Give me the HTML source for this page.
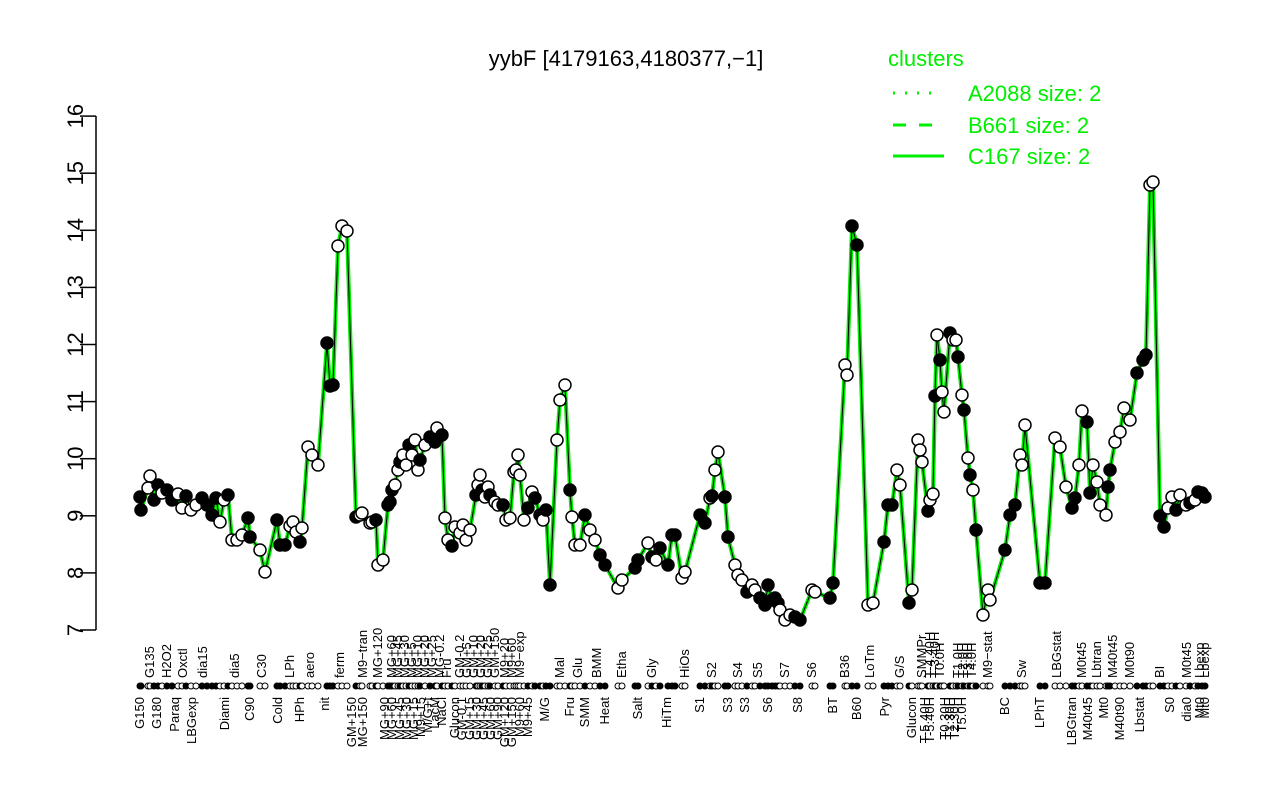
<!DOCTYPE html>
<html><head><meta charset="utf-8"><style>
html,body{margin:0;padding:0;background:#fff}
svg{display:block;font-family:"Liberation Sans",sans-serif}
</style></head><body>
<svg id="s" width="1280" height="800" xmlns="http://www.w3.org/2000/svg">
<rect width="1280" height="800" fill="#fff"/>
<text x="626" y="66" font-size="22" text-anchor="middle">yybF [4179163,4180377,−1]</text>
<g stroke="#000" stroke-width="1.5">
<line x1="96" y1="116" x2="96" y2="630"/>
</g>
<g id="yt"></g>
<g font-size="22" fill="#00ee00">
<text x="888" y="66">clusters</text>
<text x="968" y="101">A2088 size: 2</text>
<text x="968" y="133">B661 size: 2</text>
<text x="968" y="164">C167 size: 2</text>
</g>
<line x1="893" y1="93" x2="940" y2="93" stroke="#00ee00" stroke-width="3" stroke-dasharray="2,10"/>
<line x1="893" y1="125" x2="940" y2="125" stroke="#00ee00" stroke-width="3" stroke-dasharray="13,13"/>
<line x1="893" y1="156" x2="944" y2="156" stroke="#00ee00" stroke-width="3"/>
<g id="plot"></g>
<g id="lab" font-size="13"></g>
</svg>
<script>
var ns="http://www.w3.org/2000/svg";
function el(t,a,p,txt){var e=document.createElementNS(ns,t);for(var k in a)e.setAttribute(k,a[k]);if(txt)e.textContent=txt;p.appendChild(e);return e;}
var yt=document.getElementById('yt');
for(var v=7;v<=16;v++){var y=630-(v-7)*57.1;el('line',{x1:80,y1:y,x2:96,y2:y,stroke:'#000','stroke-width':1.5},yt);
el('text',{x:0,y:0,'font-size':22,'text-anchor':'middle',transform:'translate(83,'+y+') rotate(-90)'},yt,String(v));}
var P="140 497 f,141 510 f,148 488 o,150 476 o,154 500 f,158 485 f,162 493 o,167 490 f,172 500 f,178 494 o,182 508 o,186 496 f,191 510 o,196 505 o,202 498 f,207 505 f,212 515 f,216 498 f,220 522 o,224 500 o,228 495 f,232 540 o,237 540 o,242 535 o,248 518 f,250 537 f,260 550 o,265 572 o,277 520 f,280 545 f,285 545 f,290 526 o,293 522 o,296 532 o,300 542 f,302 528 o,308 447 o,312 455 o,318 465 o,327 343 f,330 386 f,333 385 f,338 246 o,342 226 o,347 231 o,356 517 f,360 515 o,362 513 o,370 523 o,372 522 o,376 520 f,378 565 o,383 560 o,388 505 f,390 502 f,392 490 f,395 485 o,398 470 o,400 462 f,403 455 o,406 465 o,409 445 f,412 455 o,415 440 o,418 470 o,420 460 f,425 445 o,430 437 f,435 442 f,437 428 o,442 435 f,445 518 o,448 540 o,452 546 f,455 527 o,460 533 o,463 525 o,466 540 o,470 530 o,476 495 f,478 485 o,480 475 o,482 490 f,485 497 o,488 487 o,490 495 f,495 502 o,498 505 o,503 505 f,506 520 o,510 518 o,514 472 o,516 470 o,518 455 o,520 475 o,524 520 o,528 508 f,532 492 o,535 498 f,540 515 f,543 520 o,546 510 f,550 585 f,557 440 o,560 400 o,565 385 o,570 490 f,572 517 o,575 545 o,580 545 o,585 515 f,590 530 o,595 540 o,600 555 f,605 565 f,618 588 o,622 580 o,635 568 f,638 560 f,648 543 o,652 557 f,656 560 o,660 548 f,668 565 f,672 535 f,675 535 f,682 578 o,685 572 o,700 515 f,705 523 f,710 498 o,712 496 f,715 470 o,718 452 o,725 497 f,728 537 f,735 565 o,738 575 o,742 580 o,747 592 f,752 585 o,755 590 o,760 598 f,765 605 f,768 585 f,772 600 f,775 598 f,778 603 f,780 610 o,785 620 o,790 615 o,795 617 f,800 620 f,812 590 o,815 592 o,830 598 f,833 583 f,845 365 o,847 375 o,852 226 f,857 245 f,868 605 o,873 603 o,884 542 f,888 505 f,892 505 f,897 470 o,900 485 o,909 603 f,912 590 o,918 440 o,920 450 o,922 462 o,928 511 f,930 500 o,933 494 o,935 396 f,937 335 o,940 360 f,942 392 o,944 412 o,950 333 f,953 340 o,956 340 o,958 357 f,962 395 o,964 410 f,968 458 o,970 475 f,973 490 o,976 530 f,983 615 o,988 590 o,990 600 o,1005 550 f,1010 515 f,1015 505 f,1020 455 o,1022 465 o,1025 425 o,1040 583 f,1045 583 f,1055 438 o,1060 447 o,1066 487 o,1072 508 f,1075 498 f,1079 465 o,1082 411 o,1087 422 f,1090 493 f,1093 465 o,1097 482 o,1100 505 o,1106 515 o,1108 487 f,1110 470 f,1115 442 o,1120 432 o,1124 408 o,1130 420 o,1137 373 f,1143 360 f,1146 355 f,1150 185 o,1153 182 o,1160 516 f,1164 527 f,1168 508 o,1172 497 o,1176 510 f,1180 495 o,1186 505 o,1190 503 f,1195 500 o,1198 492 f,1202 493 f,1205 497 f";
var pts=P.split(',').map(function(s){var a=s.split(' ');return [+a[0],+a[1],a[2]];});
var pl=document.getElementById('plot');
var d=pts.map(function(p){return p[0]+','+p[1]}).join(' ');
el('polyline',{points:d,fill:'none',stroke:'#00ee00','stroke-width':4,'stroke-linejoin':'round'},pl);
el('polyline',{points:d,fill:'none',stroke:'#000','stroke-width':1},pl);
pts.forEach(function(p){el('circle',{cx:p[0],cy:p[1],r:6,fill:p[2]=='f'?'#000':'#fff',stroke:'#000','stroke-width':1.5},pl);
el('circle',{cx:p[0],cy:686,r:3,fill:p[2]=='f'?'#000':'#fff',stroke:'#000','stroke-width':1},pl);});
var lab=document.getElementById('lab');
var lower="G150 140,G180 157,Paraq 175,LBGexp 192,Diami 225,C90 250,Cold 278,HPh 300,nit 325,GM+150 352,MG+150 363,MG+90 385,MG+60 392,MG+45 400,MG+30 407,MG+15 414,M9+15 421,M/G+t 428,LacM 435,NaCl 442,Glucon 455,GM-0.1 462,GM+15 470,GM+30 477,GM+45 484,GM+60 491,GM+90 498,GM+120 505,GM+150 512,M9+60 520,M9+45 528,M/G 545,Fru 570,SMM 585,Heat 605,Salt 638,HiTm 667,S1 700,S3 728,S3 745,S6 768,S8 798,BT 833,B60 857,Pyr 885,Glucon 912,T-5.40H 925,T-5.40H 930,T0.30H 945,T1.30H 950,T2.30H 955,T5.0H 962,BC 1005,LPhT 1040,LBGtran 1072,M40t45 1088,Mt0 1104,M40t90 1120,Lbstat 1140,S0 1170,dia0 1187,Mt0 1200,Mt0 1205";
var upper="G135 150,H2O2 167,Oxctl 183,dia15 203,dia5 235,C30 262,LPh 290,aero 310,ferm 340,M9−tran 363,MG+120 378,MG+60 392,MG+45 398,MG+30 405,MG+5 412,MG+10 418,MG+20 425,MG+25 432,MG-0.2 440,Fru 447,GM-0.2 460,GM+5 467,GM+10 474,GM+20 481,GM+25 488,GM+150 495,M9+20 505,M9+60 512,M9−exp 520,Mal 560,Glu 578,BMM 597,Etha 622,Gly 652,HiOs 685,S2 712,S4 738,S5 758,S7 785,S6 812,B36 845,LoTm 870,G/S 900,SMMPr 922,T-4.40H 930,T-3.40H 935,T0.0H 940,T1.0H 958,T2.0H 963,T3.0H 968,T4.0H 972,M9−stat 988,Sw 1022,LBGstat 1057,M0t45 1082,Lbtran 1097,M40t45 1113,M0t90 1130,BI 1160,M0t45 1187,Lbexp 1200,Lbexp 1205";
lower.split(',').forEach(function(s){var a=s.split(' ');el('text',{transform:'translate('+(+a[1]+4)+',697) rotate(-90)','text-anchor':'end'},lab,a[0]);});
upper.split(',').forEach(function(s){var a=s.split(' ');el('text',{transform:'translate('+(+a[1]+4)+',678) rotate(-90)'},lab,a[0]);});
</script>
</body></html>
